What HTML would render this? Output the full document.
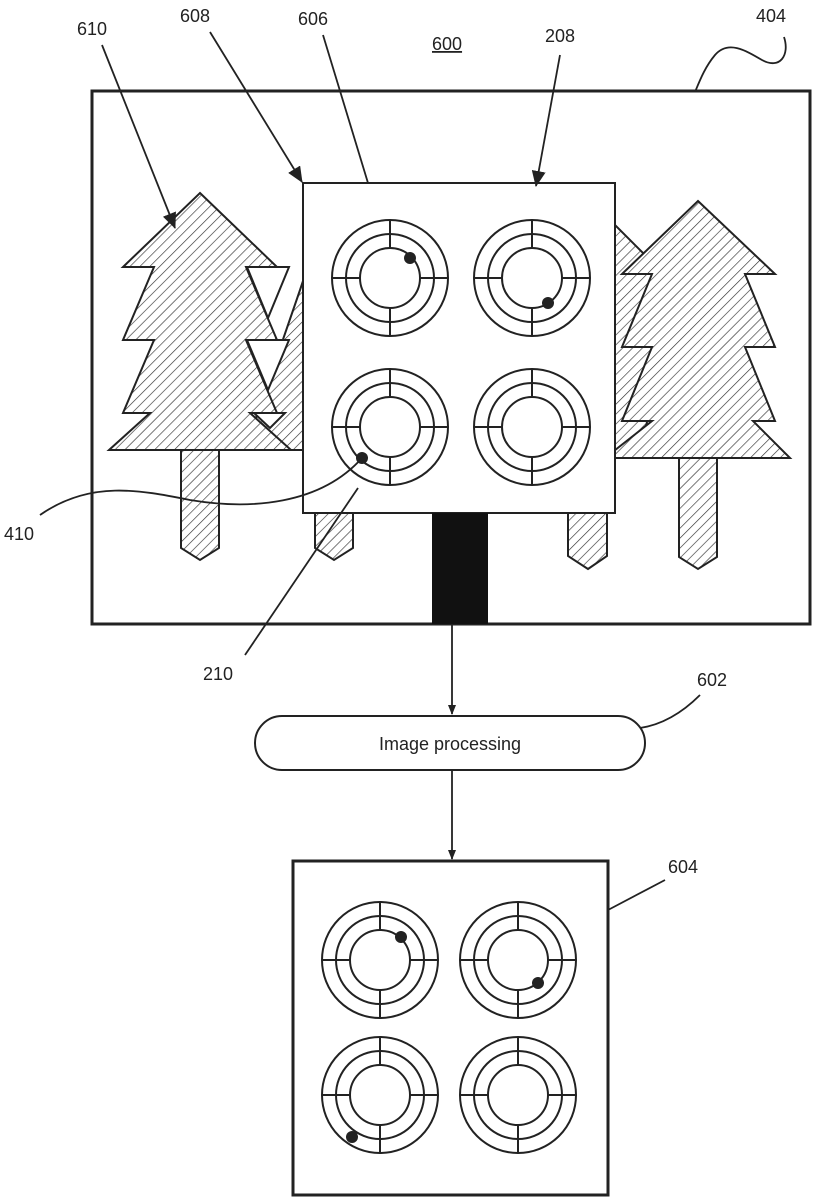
<!DOCTYPE html>
<html><head><meta charset="utf-8"><style>
html,body{margin:0;padding:0;background:#fff;}
svg{display:block;}
text{font-family:"Liberation Sans",sans-serif;font-size:18px;fill:#222;}
</style></head><body>
<svg width="815" height="1200" viewBox="0 0 815 1200" xmlns="http://www.w3.org/2000/svg">
<defs>
<pattern id="h" width="7" height="7" patternUnits="userSpaceOnUse" patternTransform="rotate(45)">
<rect width="7" height="7" fill="#fff"/>
<line x1="0" y1="0" x2="0" y2="7" stroke="#333" stroke-width="1.3"/>
</pattern>
<marker id="a" markerWidth="10" markerHeight="10" refX="9" refY="5" orient="auto" markerUnits="userSpaceOnUse" viewBox="0 0 10 10">
<path d="M0,1 L10,5 L0,9 z" fill="#222"/>
</marker>
<marker id="b" markerWidth="16" markerHeight="14" refX="15" refY="7" orient="auto" markerUnits="userSpaceOnUse" viewBox="0 0 16 14">
<path d="M0,0 L16,7 L0,14 z" fill="#222"/>
</marker>
<g id="dial" fill="none" stroke="#222" stroke-width="2">
<circle r="58"/><circle r="44"/><circle r="30"/>
<line x1="0" y1="-58" x2="0" y2="-30"/><line x1="0" y1="30" x2="0" y2="58"/>
<line x1="-58" y1="0" x2="-30" y2="0"/><line x1="30" y1="0" x2="58" y2="0"/>
</g>
</defs>

<!-- main frame -->
<rect x="92" y="91" width="718" height="533" fill="#fff" stroke="#222" stroke-width="3"/>

<g stroke="#222" stroke-width="2" fill="url(#h)">
<!-- back trees -->
<polygon points="330,200 420,290 380,450 245,450 300,290"/>
<polygon points="600,210 680,290 640,450 560,450 560,290"/>
<!-- trunks -->
<polygon points="181,450 219,450 219,548 200,560 181,548"/>
<polygon points="315,505 353,505 353,548 334,560 315,548"/>
<polygon points="568,505 607,505 607,556 588,569 568,556"/>
<polygon points="679,458 717,458 717,557 698,569 679,557"/>
<!-- front left tree -->
<polygon points="200,193 277,267 246,267 277,340 246,340 277,413 250,413 291,450 109,450 150,413 123,413 154,340 123,340 154,267 123,267"/>
<!-- front right tree -->
<polygon points="698,201 775,274 745,274 775,347 745,347 775,421 753,421 790,458 605,458 652,421 622,421 652,347 622,347 652,274 622,274"/>
</g>
<g fill="#fff" stroke="#222" stroke-width="2">
<polygon points="247,267 289,267 268,318"/>
<polygon points="247,340 289,340 268,390"/>
<polygon points="254,413 285,413 270,428"/>
</g>

<!-- camera box -->
<rect x="303" y="183" width="312" height="330" fill="#fff" stroke="#222" stroke-width="2"/>
<rect x="432" y="513" width="56" height="111" fill="#111"/>
<use href="#dial" x="390" y="278"/>
<use href="#dial" x="532" y="278"/>
<use href="#dial" x="390" y="427"/>
<use href="#dial" x="532" y="427"/>
<circle cx="410" cy="258" r="6" fill="#222"/>
<circle cx="548" cy="303" r="6" fill="#222"/>
<circle cx="362" cy="458" r="6" fill="#222"/>

<!-- leader lines -->
<g fill="none" stroke="#222" stroke-width="1.8">
<line x1="102" y1="45" x2="175" y2="228" marker-end="url(#b)"/>
<line x1="210" y1="32" x2="302" y2="182" marker-end="url(#b)"/>
<line x1="323" y1="35" x2="368" y2="183"/>
<line x1="560" y1="55" x2="536" y2="186" marker-end="url(#b)"/>
<path d="M784,37 C790,55 780,70 762,60 C745,50 728,40 715,55 C705,67 700,80 695,92"/>
<path d="M40,515 C90,480 140,490 190,500 C250,510 320,505 362,458"/>
<line x1="245" y1="655" x2="358" y2="488"/>
<path d="M700,695 C680,715 660,725 640,728"/>
<line x1="665" y1="880" x2="608" y2="910"/>
<line x1="452" y1="624" x2="452" y2="714" marker-end="url(#a)"/>
<line x1="452" y1="770" x2="452" y2="859" marker-end="url(#a)"/>
</g>

<!-- pill -->
<rect x="255" y="716" width="390" height="54" rx="27" fill="#fff" stroke="#222" stroke-width="2"/>
<text x="450" y="750" text-anchor="middle">Image processing</text>

<!-- output box -->
<rect x="293" y="861" width="315" height="334" fill="#fff" stroke="#222" stroke-width="3"/>
<use href="#dial" x="380" y="960"/>
<use href="#dial" x="518" y="960"/>
<use href="#dial" x="380" y="1095"/>
<use href="#dial" x="518" y="1095"/>
<circle cx="401" cy="937" r="6" fill="#222"/>
<circle cx="538" cy="983" r="6" fill="#222"/>
<circle cx="352" cy="1137" r="6" fill="#222"/>

<!-- labels -->
<text x="77" y="35">610</text>
<text x="180" y="22">608</text>
<text x="298" y="25">606</text>
<text x="432" y="50" text-decoration="underline">600</text>
<text x="545" y="42">208</text>
<text x="756" y="22">404</text>
<text x="4" y="540">410</text>
<text x="203" y="680">210</text>
<text x="697" y="686">602</text>
<text x="668" y="873">604</text>
</svg>
</body></html>
